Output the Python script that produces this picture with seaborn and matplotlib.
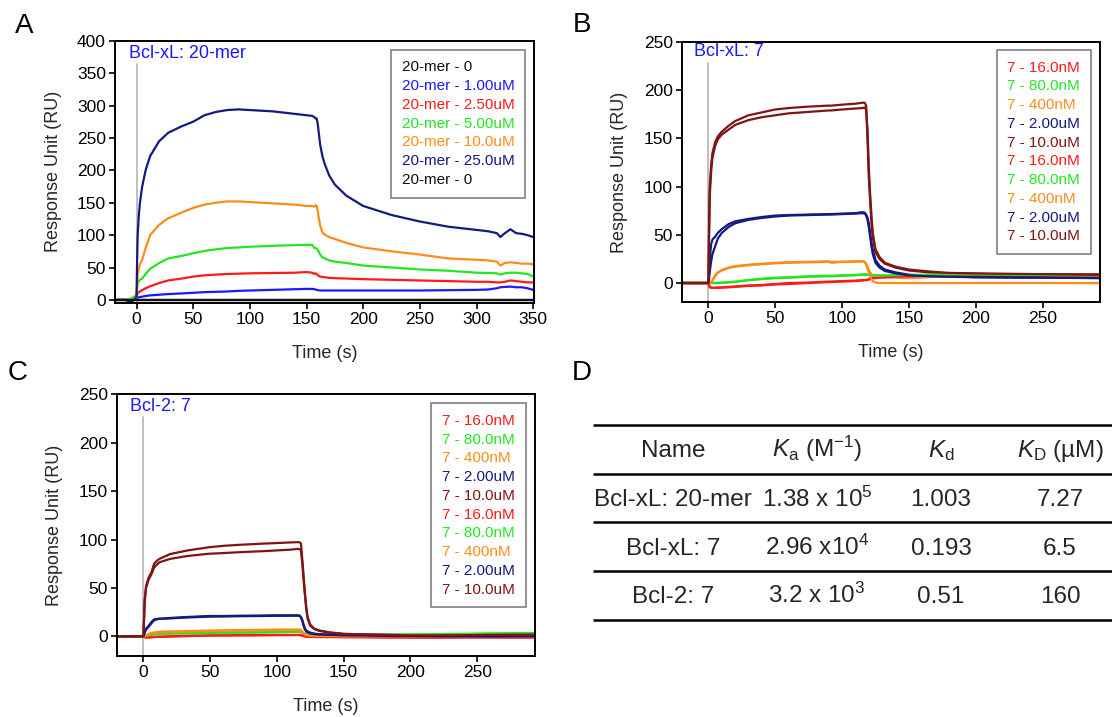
import matplotlib
matplotlib.use("Agg")
import matplotlib.pyplot as plt
import seaborn as sns

# ---------------- data ----------------
# Panel A : Bcl-xL : 20-mer  (time in s, response in RU)
tA = [-20, -10, -5, -2, 0, 0.5, 1, 2, 3, 5,
      8, 12, 20, 28, 40, 50, 60, 70, 80, 90,
      100, 120, 140, 150, 155, 157, 158, 159, 160, 162,
      164, 166, 170, 175, 185, 200, 225, 250, 275, 300,
      310, 318, 321, 325, 330, 335, 340, 345, 350]
a_25uM = [0, 0, -3, 0, 5, 60, 100, 130, 150, 175,
          200, 222, 245, 258, 268, 275, 285, 290, 293, 294,
          293, 291, 287, 285, 284, 282, 280, 280, 270, 240,
          222, 210, 192, 178, 161, 145, 131, 121, 113, 108,
          106, 103, 97, 103, 109, 103, 102, 100, 97]
a_10uM = [0, 0, -1, 0, 3, 25, 40, 48, 55, 62,
          80, 100, 116, 126, 135, 142, 147, 150, 152, 152,
          151, 149, 147, 145, 145, 144, 146, 145, 135, 115,
          104, 101, 97, 94, 88, 81, 75, 70, 64, 62,
          61, 59, 53, 57, 58, 57, 56, 56, 55]
a_5uM = [0, 0, 2, 5, 8, 18, 25, 29, 31, 33,
         40, 48, 57, 64, 68, 72, 75.5, 78, 80, 81,
         82, 83.5, 84.5, 85, 85, 80, 80, 79, 77, 70,
         66, 64, 61, 59, 57, 53, 50, 47, 45, 42,
         41.5, 41, 39, 41, 42, 42, 41, 40, 36]
a_2p5uM = [0, 0, 1, 3, 5, 8, 10, 12, 13, 15,
           18, 21, 26, 30, 33, 36, 38, 39, 40, 40.5,
           41, 41.5, 42, 43, 42, 40, 41, 40, 38, 36,
           35.5, 35, 34, 33.5, 33, 32, 31, 30, 29, 28,
           28, 27, 27, 28, 30, 29, 28, 27, 27]
a_1uM = [0, 0, -1, 1, 2, 3, 3, 4, 4.5, 5,
         6, 7, 8, 9, 10, 11, 12, 12.5, 13, 14,
         14.5, 15.5, 16.5, 17, 17, 16.5, 16, 15.5, 15, 14.5,
         14.5, 14.5, 14.5, 14.5, 14.5, 14.5, 14.5, 14.5, 15, 15.5,
         16, 18, 19.5, 20, 20.5, 19.5, 19.5, 18, 15.5]
tA_blank = [-20, 350]
a_blank = [0, 0]
labels_A = ["20-mer - 0", "20-mer - 1.00uM", "20-mer - 2.50uM", "20-mer - 5.00uM",
            "20-mer - 10.0uM", "20-mer - 25.0uM", "20-mer - 0"]

# Panel B : Bcl-xL : 7
tB = [-20, -1, 0, 0.5, 1, 2, 3, 5, 7, 10,
      15, 20, 30, 40, 50, 60, 75, 90, 92, 100,
      110, 115, 117, 118, 119, 120, 121, 122, 123, 125,
      128, 132, 140, 150, 165, 180, 200, 230, 260, 292]
b_red1 = [0, 0, 0, -3, -4.5, -5, -5, -5, -5, -4.8,
          -4.5, -4, -3, -2.5, -1.5, -1, 0, 1, 1, 1.5,
          2, 2.5, 3, 3, 3.5, 4, 5, 5.5, 5.5, 5.5,
          6, 6, 6.5, 7, 7.5, 8, 8, 8, 8, 8]
b_green1 = [0, 0, 0, 0, 0, 0, 0, 0, 0, 0,
            0.5, 1, 3, 4, 5, 5.5, 6.5, 7, 7, 7.5,
            8, 8.5, 8.5, 8.5, 8.5, 8.5, 8.5, 8, 8, 7.5,
            7.5, 7.5, 7.5, 8, 8.5, 8.5, 9, 8.5, 8.5, 8]
b_orange1 = [0, 0, 0, 0, 0, 0.5, 3, 8, 11, 13.5,
             16, 17.5, 19, 20, 21, 21.5, 22, 22.5, 21, 22,
             22.5, 22.7, 22, 20, 17, 14, 11, 9, 8, 7,
             6.5, 6, 5.5, 5, 6, 7, 7.5, 8, 8, 8]
b_navy1 = [0, 0, 0, 10, 25, 40, 45, 48, 52, 56,
           61, 64, 66.5, 68.5, 70, 70.5, 71, 71.5, 71.5, 72,
           72.5, 73.5, 73, 71, 68, 62, 52, 42, 34, 24,
           18, 14, 11, 8.6, 7.5, 7, 6, 5.5, 5.5, 5.5]
b_maroon1 = [0, 0, 0, 60, 100, 122, 135, 146, 152, 157,
             163, 168, 174, 177, 180, 181.5, 183, 184, 184, 185,
             186, 187, 187, 184, 150, 110, 85, 62, 47, 32,
             25, 20, 16, 13, 11, 10, 9.5, 9, 9, 9]
b_red2 = [0, 0, 0, -2, -3.5, -4.5, -5, -5, -4.5, -4.5,
          -4, -3.5, -2.5, -2, -1, 0, 0.5, 1.5, 1.5, 2,
          2.5, 3, 3, 3, 3, 3.5, 4, 4.5, 5, 5,
          5.5, 6, 6.5, 7, 7.5, 7.5, 8, 8, 7.5, 7.5]
b_green2 = [0, 0, 0, 0, 0, 0, 0, 0, 0.3, 0.5,
            1, 1.5, 3, 4.5, 5.5, 6, 7, 7.5, 7.5, 8,
            8.5, 9, 9, 9, 9, 9, 8.5, 8.5, 8, 8,
            8, 8, 8, 8.5, 8.5, 9, 9, 8.5, 8, 8]
b_orange2 = [0, 0, 0, 0, 0, 0.5, 2.5, 7, 10.5, 13,
             15.5, 17, 18.5, 19.5, 20.5, 21, 21.5, 22, 22, 22,
             22, 22.5, 21.5, 19, 15, 11, 7, 4, 2, 0.5,
             0, 0, 0, 0, 0, 0, 0, 0, 0, 0]
b_navy2 = [0, 0, 0, 5, 12, 22, 30, 38, 46, 52,
           58, 62, 65.5, 67.5, 69, 70, 70.5, 71, 71, 71.5,
           72, 72.5, 72, 70, 66, 58, 48, 38, 30, 21,
           16, 12.5, 10, 8, 7, 6.5, 6, 6, 5.5, 5]
b_maroon2 = [0, 0, 0, 50, 90, 115, 130, 142, 149, 154,
             159, 164, 169, 172, 174, 176, 177.5, 179, 179, 180,
             181, 181.5, 182, 180, 160, 120, 92, 70, 52, 35,
             27, 21, 17, 14, 12, 10.5, 10, 9.5, 9, 8.5]
labels_7 = ["7 - 16.0nM", "7 - 80.0nM", "7 - 400nM", "7 - 2.00uM", "7 - 10.0uM",
            "7 - 16.0nM", "7 - 80.0nM", "7 - 400nM", "7 - 2.00uM", "7 - 10.0uM"]

# Panel C : Bcl-2 : 7
tC = [-20, -1, 0, 0.5, 1, 2, 4, 6, 8, 10,
      12, 20, 33, 49, 60, 73, 90, 99, 110, 116,
      117, 118, 119, 120, 121, 122, 123, 125, 128, 132,
      140, 150, 165, 180, 200, 220, 240, 260, 275, 292]
c_red1 = [0, 0, 0, -0.5, -1, -1, -1, -0.8, -0.6, -0.5,
          -0.4, 0, 0.5, 1, 1, 1.2, 1.3, 1.5, 1.5, 1.5,
          1.5, 1.2, 0.8, 0.3, 0, -0.2, -0.3, -0.5, -0.5, -0.5,
          -0.5, -0.5, -0.8, -1, -1, -1.2, -1, -1, -1.2, -1]
c_green1 = [0, 0, 0, 0, 0.5, 1, 1.5, 2, 2.2, 2.5,
            2.6, 3, 3.2, 3.5, 3.8, 4, 4.3, 4.5, 4.8, 5,
            5, 4.8, 4, 3, 2.5, 2, 1.8, 1.5, 1.5, 1.5,
            1.5, 1.5, 1.5, 1.8, 2, 2.3, 2.6, 3, 3.2, 3.5]
c_orange1 = [0, 0, 0, 0, 0.5, 1, 2.5, 3.5, 4, 4.5,
             4.8, 5, 5.5, 6, 6.2, 6.5, 6.8, 7, 7, 7,
             7, 6.5, 5, 3.5, 2.5, 2, 1.5, 1.2, 1, 1,
             1, 1, 1, 1, 1, 1, 1, 1, 1, 1]
c_navy1 = [0, 0, 0, 2, 5, 8, 11, 14.8, 17.5, 18,
           18.2, 19, 20, 21, 21, 21.3, 21.5, 21.7, 21.7, 21.7,
           21.5, 20, 17, 12, 8, 6, 5, 3.8, 2.8, 2.2,
           1.8, 1.5, 1, 0.8, 0.5, 0.3, 0, 0, 0, 0]
c_maroon1 = [0, 0, 0, 20, 39, 52, 61, 66, 75, 78,
             80, 85, 88.7, 92, 93.5, 94.6, 95.8, 96.3, 97, 97.3,
             97, 96, 80, 62, 45, 30, 20, 12, 8, 6,
             4, 2.5, 2, 1.7, 1.2, 1.2, 1.5, 1.7, 2, 2]
c_red2 = [0, 0, 0, -0.3, -0.8, -1.2, -1.2, -1, -0.8, -0.6,
          -0.5, -0.2, 0.3, 0.8, 0.9, 1, 1.1, 1.2, 1.2, 1.3,
          1.3, 1.0, 0.6, 0.2, -0.1, -0.3, -0.4, -0.6, -0.7, -0.8,
          -0.8, -1, -1, -1.2, -1.3, -1.3, -1.2, -1.1, -1.2, -1.3]
c_green2 = [0, 0, 0, 0, 0.3, 0.7, 1.2, 1.6, 2, 2.2,
            2.4, 2.8, 3, 3.3, 3.5, 3.7, 4, 4.2, 4.5, 4.6,
            4.6, 4.4, 3.6, 2.8, 2.2, 1.8, 1.5, 1.3, 1.2, 1.2,
            1.2, 1.2, 1.3, 1.5, 1.8, 2, 2.3, 2.6, 2.9, 3.2]
c_orange2 = [0, 0, 0, 0, 0.3, 0.8, 2, 3, 3.5, 4,
             4.3, 4.6, 5, 5.5, 5.7, 6, 6.2, 6.5, 6.5, 6.5,
             6.3, 6, 4.5, 3, 2, 1.5, 1, 0.8, 0.5, 0.3,
             0.2, 0, 0, 0, 0, 0, 0, 0, 0, 0]
c_navy2 = [0, 0, 0, 1.5, 4, 7, 10, 13.5, 16.5, 17.5,
           18, 18.5, 19.5, 20.3, 20.5, 20.8, 21, 21.2, 21.3, 21.3,
           21, 19.5, 16, 11, 7, 5, 4, 3, 2.2, 1.8,
           1.5, 1, 0.8, 0.5, 0.3, 0, 0, -0.2, 0, 0]
c_maroon2 = [0, 0, 0, 18, 36, 50, 59, 64, 71, 74,
             76.5, 80, 83, 85.3, 86, 87, 88, 88.7, 89.5, 90.4,
             90, 89, 75, 58, 42, 28, 18, 11, 7.5, 5.5,
             3.8, 2.5, 2, 1.5, 1, 1, 1.2, 1.5, 1.7, 1.8]

# Panel D : kinetic table
tbl_header = ["Name", r"$K_\mathrm{a}$ (M$^{\mathrm{-1}}$)", r"$K_\mathrm{d}$", r"$K_\mathrm{D}$ (µM)"]
tbl_names = ["Bcl-xL: 20-mer", "Bcl-xL: 7", "Bcl-2: 7"]
tbl_ka = [r"1.38 x 10$^{5}$", r"2.96 x10$^{4}$", r"3.2 x 10$^{3}$"]
tbl_kd = ["1.003", "0.193", "0.51"]
tbl_KD = ["7.27", "6.5", "160"]

# ---------------- style ----------------
sns.set_theme(style="ticks")
plt.rcParams["font.family"] = ["Liberation Sans", "DejaVu Sans"]
plt.rcParams["mathtext.fontset"] = "custom"
plt.rcParams["mathtext.rm"] = "Liberation Sans"
plt.rcParams["mathtext.it"] = "Liberation Sans:italic"
plt.rcParams["mathtext.bf"] = "Liberation Sans:bold"
plt.rcParams["axes.unicode_minus"] = False

RED = "#ff1a1a"
GREEN = "#22e622"
ORANGE = "#ff8c1a"
NAVY = "#141a80"
MAROON = "#7f1414"
BLUE = "#1a1aff"
BLACK = "#111111"
NOTE_BLUE = "#1a1aff"

W, H = 1112, 717
fig = plt.figure(figsize=(W / 100, H / 100), dpi=100)
fig.patch.set_facecolor("white")


def rect(l, t, r, b):
    return [l / W, 1 - b / H, (r - l) / W, (b - t) / H]


axA = fig.add_axes(rect(115, 40.7, 534.3, 302.5))
axB = fig.add_axes(rect(681.7, 42, 1100, 302.3))
axC = fig.add_axes(rect(116.7, 394.3, 534.6, 655.7))


def draw(ax, t, ys, labels, colors, ts=None):
    for i, (y, lab, col) in enumerate(zip(ys, labels, colors)):
        tt = t if ts is None or ts[i] is None else ts[i]
        sns.lineplot(x=tt, y=y, ax=ax, color=col, lw=1.6, label=lab,
                     sort=False, estimator=None)


def style(ax, xlim, ylim, xticks, yticks, note, note_xy, vmax, leg_anchor):
    ax.set_xlim(*xlim)
    ax.set_ylim(*ylim)
    ax.set_xticks(xticks)
    ax.set_yticks(yticks)
    ax.axvline(0, ymin=0, ymax=vmax, color="#b4b4b4", lw=1.2, zorder=0.5)
    for s in ax.spines.values():
        s.set_visible(True)
        s.set_color("black")
        s.set_linewidth(1.4)
    ax.tick_params(axis="both", direction="out", length=4, width=1.2,
                   labelsize=12.5, pad=2.5, colors="black")
    ax.set_xlabel("Time (s)", fontsize=13, labelpad=13)
    ax.set_ylabel("Response Unit (RU)", fontsize=13, labelpad=11)
    ax.text(note_xy[0], note_xy[1], note, transform=ax.transAxes, ha="left",
            va="center", color=NOTE_BLUE, fontsize=13)
    handles, labels = ax.get_legend_handles_labels()
    leg = ax.legend(handles, labels, loc="upper right", bbox_to_anchor=leg_anchor,
                    borderaxespad=0, handlelength=0, handletextpad=0,
                    fontsize=11, labelspacing=0.31, borderpad=0.7,
                    fancybox=False, frameon=True, framealpha=1)
    leg.get_frame().set_edgecolor("#808080")
    leg.get_frame().set_linewidth(1.2)
    for txt, h in zip(leg.get_texts(), leg.legend_handles):
        txt.set_color(h.get_color())
        h.set_visible(False)


# Panel A
draw(axA, tA,
     [a_blank, a_1uM, a_2p5uM, a_5uM, a_10uM, a_25uM, a_blank],
     labels_A, [BLACK, BLUE, RED, GREEN, ORANGE, NAVY, BLACK],
     ts=[tA_blank, None, None, None, None, None, tA_blank])
style(axA, (-19, 351), (-4, 400), range(0, 351, 50), range(0, 401, 50),
      "Bcl-xL: 20-mer", (0.0334, 0.953), 0.91,
      (1 - 9 / 419.3, 1 - 9 / 261.8))

cols7 = [RED, GREEN, ORANGE, NAVY, MAROON] * 2
# Panel B
draw(axB, tB,
     [b_red1, b_green1, b_orange1, b_navy1, b_maroon1,
      b_red2, b_green2, b_orange2, b_navy2, b_maroon2],
     labels_7, cols7)
style(axB, (-20, 293), (-20, 250), range(0, 251, 50), range(0, 251, 50),
      "Bcl-xL: 7", (0.0294, 0.9616), 0.92,
      (1 - 9 / 418.3, 1 - 8 / 260.3))

# Panel C
draw(axC, tC,
     [c_red1, c_green1, c_orange1, c_navy1, c_maroon1,
      c_red2, c_green2, c_orange2, c_navy2, c_maroon2],
     labels_7, cols7)
style(axC, (-20, 293), (-20, 250), range(0, 251, 50), range(0, 251, 50),
      "Bcl-2: 7", (0.0318, 0.9526), 0.912,
      (1 - 9 / 417.9, 1 - 9 / 261.4))

# Overlay in pixel coordinates: panel letters and table D
ov = fig.add_axes([0, 0, 1, 1], zorder=-1)
ov.set_xlim(0, W)
ov.set_ylim(H, 0)
ov.axis("off")

for letter, (x, y) in zip("ABCD", [(15, 33), (573, 32), (8, 380), (572, 380)]):
    ov.text(x, y, letter, fontsize=20, ha="left", va="baseline", color="black")

col_x = [673, 817, 941, 1060]
row_base = [457, 506.5, 555, 603]
line_y = [425, 474, 522.3, 570.7, 620]
ov.hlines(line_y, 593, W, color="black", lw=1.8)
for x, s in zip(col_x, tbl_header):
    ov.text(x, row_base[0], s, fontsize=17.5, ha="center", va="baseline")
for r in range(3):
    for x, s in zip(col_x, [tbl_names[r], tbl_ka[r], tbl_kd[r], tbl_KD[r]]):
        ov.text(x, row_base[r + 1], s, fontsize=17.5, ha="center", va="baseline")

fig.savefig("out.png", dpi=100, facecolor="white")
